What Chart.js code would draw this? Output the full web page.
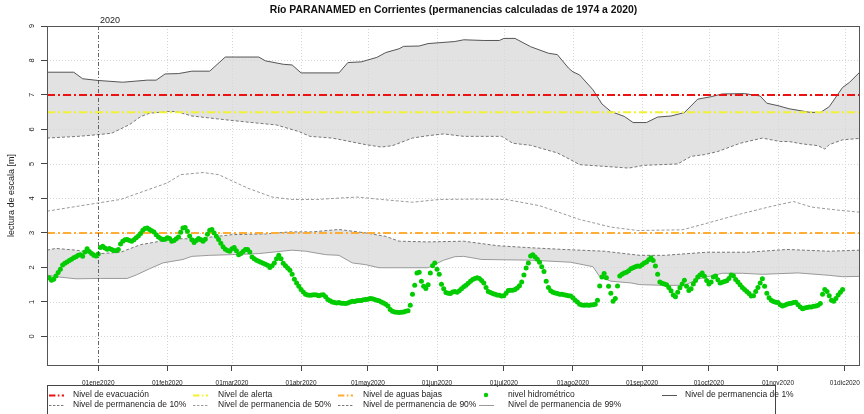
<!DOCTYPE html>
<html>
<head>
<meta charset="utf-8">
<script src="https://cdn.jsdelivr.net/npm/chart.js@4.4.0/dist/chart.umd.min.js"></script>
<style>
  html, body { margin: 0; padding: 0; background: #fff; }
  canvas { display: block; }
</style>
</head>
<body>
<canvas id="rio" width="864" height="414"></canvas>
<script>
const FONT = '"Liberation Sans", Arial, Helvetica, sans-serif';

// eje x en dias desde el 01ene2020
const xMin = -23, xMax = 341.8;
const yMin = -0.83, yMax = 9;
const monthDays = [0, 31, 60, 91, 121, 152, 182, 213, 244, 274, 305, 335];
const monthLabels = ['01ene2020', '01feb2020', '01mar2020', '01abr2020', '01may2020', '01jun2020',
  '01jul2020', '01ago2020', '01sep2020', '01oct2020', '01nov2020', '01dic2020'];
const yTicks = [0, 1, 2, 3, 4, 5, 6, 7, 8, 9];

// niveles de referencia [m]
const nivelEvacuacion = 7;
const nivelAlerta = 6.5;
const nivelAguasBajas = 3;

// permanencias [dia, nivel]
const perm1 = [[-23,7.66],[-11,7.66],[-7,7.47],[0,7.42],[11,7.37],[22,7.43],[26,7.43],[30,7.61],[36,7.62],
  [42,7.69],[50,7.69],[57,8.1],[72,8.1],[75,7.99],[83,7.89],[87,7.87],[91,7.64],[108,7.64],[112,7.94],
  [118,7.96],[125,8.09],[129,8.23],[135,8.34],[137,8.41],[144,8.42],[148,8.49],[160,8.55],[164,8.6],
  [173,8.58],[180,8.58],[182,8.64],[187,8.64],[194,8.4],[202,8.21],[206,8.17],[211,7.78],[213,7.67],
  [216,7.58],[222,7.15],[226,6.74],[230,6.52],[236,6.38],[240,6.2],[246,6.2],[251,6.36],[257,6.39],
  [263,6.49],[269,6.88],[275,6.95],[280,7.03],[290,7.04],[297,6.97],[300,6.76],[305,6.69],[310,6.6],
  [319,6.5],[324,6.49],[328,6.66],[334,7.22],[337,7.36],[341.8,7.67]];
const perm10 = [[-23,5.75],[-9,5.8],[0,5.85],[6,5.89],[14,6.14],[19,6.37],[23,6.47],[31,6.52],[35,6.52],
  [42,6.39],[60,6.26],[69,6.2],[80,6.13],[90,5.94],[95,5.8],[105,5.75],[120,5.56],[127,5.49],[132,5.53],
  [141,5.75],[148,5.82],[155,5.87],[164,5.8],[181,5.8],[186,5.6],[194,5.54],[206,5.32],[212,5.12],
  [216,4.98],[238,4.88],[245,4.96],[260,5.0],[266,5.22],[272,5.27],[278,5.36],[288,5.6],[298,5.75],
  [306,5.65],[310,5.65],[316,5.58],[323,5.53],[326,5.43],[328,5.56],[334,5.7],[341.8,5.74]];
const perm50 = [[-23,3.63],[0,3.87],[10,3.97],[31,4.45],[37,4.69],[47,4.75],[54,4.69],[67,4.3],[78,4.04],
  [87,3.97],[98,3.97],[116,4.04],[127,3.97],[141,3.89],[153,3.97],[168,3.98],[183,3.97],[198,3.79],
  [216,3.39],[230,3.17],[242,3.07],[262,3.09],[272,3.26],[287,3.53],[302,3.77],[312,3.91],[320,3.75],
  [332,3.66],[341.8,3.6]];
const perm90 = [[-23,2.5],[-19,2.55],[-10,2.5],[1,2.4],[10,2.44],[19,2.66],[28,2.76],[35,2.83],[44,2.83],
  [60,2.95],[75,2.97],[86,3.03],[96,3.03],[108,3.1],[120,3.0],[129,2.9],[135,2.76],[148,2.74],[164,2.76],
  [179,2.63],[194,2.57],[209,2.52],[227,2.47],[243,2.35],[254,2.35],[273,2.44],[291,2.44],[309,2.52],
  [328,2.47],[341.8,2.5]];
const perm99 = [[-23,1.78],[-19,1.73],[-10,1.67],[1,1.68],[13,1.68],[17,1.78],[23,1.96],[29,2.13],[38,2.23],
  [42,2.32],[50,2.35],[60,2.37],[72,2.4],[87,2.5],[93,2.47],[102,2.37],[108,2.35],[114,2.13],[120,2.08],
  [126,1.99],[148,1.99],[155,2.21],[160,2.31],[164,2.32],[172,2.23],[194,2.21],[212,2.15],[222,2.02],
  [225,1.73],[230,1.6],[239,1.55],[243,1.5],[254,1.48],[263,1.48],[269,1.66],[280,1.83],[289,1.83],
  [298,1.8],[314,1.84],[328,1.77],[334,1.73],[341.8,1.74]];

// nivel hidrometrico diario, desde el 10dic2019 (dia -22)
const hidroInicio = -22;
const hidro = [
  1.70,1.63,1.66,1.75,1.85,1.95,2.07,2.12,2.16,2.20,
  2.24,2.28,2.31,2.35,2.37,2.32,2.45,2.54,2.46,2.40,
  2.35,2.33,2.39,2.58,2.61,2.56,2.53,2.55,2.52,2.49,
  2.48,2.52,2.68,2.76,2.80,2.81,2.78,2.76,2.80,2.86,
  2.91,2.98,3.08,3.13,3.14,3.10,3.06,3.03,2.95,2.88,
  2.84,2.81,2.82,2.86,2.84,2.76,2.78,2.83,2.88,3.02,
  3.14,3.16,3.05,2.91,2.80,2.72,2.78,2.84,2.80,2.76,
  2.82,2.96,3.08,3.10,3.00,2.90,2.81,2.70,2.60,2.53,
  2.49,2.47,2.54,2.58,2.48,2.37,2.40,2.46,2.52,2.52,
  2.45,2.30,2.25,2.21,2.18,2.15,2.12,2.09,2.06,2.00,
  2.05,2.13,2.25,2.35,2.25,2.12,2.05,1.98,1.92,1.80,
  1.66,1.55,1.45,1.36,1.29,1.22,1.20,1.19,1.20,1.21,
  1.20,1.18,1.20,1.21,1.15,1.07,1.03,1.00,0.98,0.97,
  0.98,0.96,0.96,0.95,0.97,1.00,1.02,1.01,1.03,1.04,
  1.04,1.06,1.07,1.08,1.10,1.09,1.07,1.05,1.03,1.00,
  0.97,0.93,0.88,0.78,0.73,0.71,0.70,0.69,0.70,0.71,
  0.73,0.74,0.90,1.22,1.48,1.84,1.86,1.60,1.45,1.39,
  1.50,1.84,2.05,2.13,1.95,1.80,1.51,1.38,1.27,1.25,
  1.24,1.29,1.30,1.28,1.32,1.38,1.44,1.48,1.54,1.60,
  1.65,1.68,1.70,1.68,1.62,1.55,1.42,1.30,1.27,1.24,
  1.22,1.20,1.19,1.17,1.18,1.25,1.33,1.34,1.34,1.36,
  1.40,1.47,1.58,1.78,1.98,2.13,2.33,2.37,2.30,2.24,
  2.15,2.02,1.88,1.60,1.42,1.32,1.28,1.26,1.24,1.22,
  1.22,1.21,1.19,1.18,1.17,1.12,1.05,1.00,0.93,0.91,
  0.90,0.91,0.90,0.91,0.92,0.93,1.05,1.46,1.72,1.82,
  1.70,1.45,1.25,1.02,1.10,1.46,1.75,1.80,1.84,1.86,
  1.90,1.96,1.99,2.02,2.04,2.03,2.08,2.13,2.16,2.22,
  2.28,2.20,2.04,1.80,1.58,1.54,1.52,1.50,1.42,1.32,
  1.20,1.15,1.28,1.41,1.52,1.63,1.45,1.33,1.38,1.52,
  1.62,1.72,1.78,1.84,1.74,1.62,1.52,1.58,1.72,1.75,
  1.64,1.55,1.57,1.59,1.61,1.68,1.78,1.76,1.65,1.58,
  1.50,1.42,1.36,1.30,1.24,1.17,1.18,1.30,1.42,1.55,
  1.67,1.45,1.25,1.12,1.05,1.01,0.99,0.98,0.92,0.88,
  0.90,0.93,0.95,0.96,0.98,0.99,0.92,0.85,0.80,0.82,
  0.84,0.85,0.85,0.87,0.88,0.90,0.95,1.22,1.36,1.30,
  1.18,1.05,1.02,1.10,1.20,1.28,1.36
];

const toXY = arr => arr.map(p => ({ x: p[0], y: p[1] }));
const hLine = v => [{ x: xMin, y: v }, { x: xMax, y: v }];

const BAND = '#e2e2e2';
const dashDot = [8, 3, 2, 3];

const datasets = [
  { label: 'Nivel de permanencia de 1%', data: toXY(perm1), borderColor: '#555', borderWidth: 1,
    fill: { target: 1 }, backgroundColor: BAND, order: 2 },
  { label: 'Nivel de permanencia de 10%', data: toXY(perm10), borderColor: '#777', borderWidth: 1,
    borderDash: [3, 2], fill: false, order: 2 },
  { label: 'Nivel de permanencia de 50%', data: toXY(perm50), borderColor: '#999', borderWidth: 1,
    borderDash: [3, 2], fill: false, order: 2 },
  { label: 'Nivel de permanencia de 90%', data: toXY(perm90), borderColor: '#777', borderWidth: 1,
    borderDash: [3, 2], fill: { target: 4 }, backgroundColor: BAND, order: 2 },
  { label: 'Nivel de permanencia de 99%', data: toXY(perm99), borderColor: '#999', borderWidth: 1,
    fill: false, order: 2 },
  { label: 'Nivel de evacuación', data: hLine(nivelEvacuacion), borderColor: '#ee1111', borderWidth: 2,
    borderDash: dashDot, fill: false, order: 1 },
  { label: 'Nivel de alerta', data: hLine(nivelAlerta), borderColor: '#f2f230', borderWidth: 2,
    borderDash: dashDot, fill: false, order: 1 },
  { label: 'Nivel de aguas bajas', data: hLine(nivelAguasBajas), borderColor: '#ffae33', borderWidth: 2,
    borderDash: dashDot, fill: false, order: 1 },
  { label: 'nivel hidrométrico', data: hidro.map((v, i) => ({ x: hidroInicio + i, y: v })),
    showLine: false, pointRadius: 2.5, pointBorderWidth: 0, backgroundColor: '#00cc00',
    borderColor: '#00cc00', order: 0 }
];
datasets.forEach(d => { if (d.showLine !== false) { d.pointRadius = 0; d.tension = 0; } });

// orden de la leyenda (por columnas, 2 filas)
const legendOrder = [5, 1, 6, 2, 7, 3, 8, 4, 0];
const legendCols = [{ s: 49, t: 73 }, { s: 193, t: 218 }, { s: 338, t: 363 }, { s: 479, t: 508 }, { s: 662, t: 685 }];
const legendRows = [395, 405];

function seg(ctx, x1, y1, x2, y2) {
  ctx.beginPath(); ctx.moveTo(x1, y1); ctx.lineTo(x2, y2); ctx.stroke();
}

const decor = {
  id: 'decor',
  beforeDatasetsDraw(chart) {
    const { ctx, chartArea: a, scales: { x, y } } = chart;
    ctx.save();
    ctx.strokeStyle = '#d6d6d6';
    ctx.lineWidth = 1;
    ctx.setLineDash([1, 2]);
    monthDays.forEach(d => {
      const px = Math.round(x.getPixelForValue(d)) + 0.5;
      seg(ctx, px, a.top, px, a.bottom);
    });
    yTicks.forEach(v => {
      const py = Math.round(y.getPixelForValue(v)) + 0.5;
      seg(ctx, a.left, py, a.right, py);
    });
    ctx.restore();
  },
  afterDatasetsDraw(chart) {
    const { ctx, chartArea: a, scales: { x } } = chart;
    ctx.save();
    // linea de inicio de año
    const px = Math.round(x.getPixelForValue(0)) + 0.5;
    ctx.strokeStyle = '#444';
    ctx.lineWidth = 0.8;
    ctx.setLineDash([4, 2, 1, 2]);
    seg(ctx, px, a.top, px, a.bottom);
    ctx.setLineDash([]);
    ctx.fillStyle = '#222';
    ctx.font = '9px ' + FONT;
    ctx.textBaseline = 'alphabetic';
    ctx.fillText('2020', px + 1.5, 23);
    // caja del grafico
    ctx.strokeStyle = '#555';
    ctx.lineWidth = 1;
    ctx.strokeRect(Math.round(a.left) + 0.5, Math.round(a.top) + 0.5,
      Math.round(a.right - a.left) - 1, Math.round(a.bottom - a.top));
    ctx.restore();
  },
  afterDraw(chart) {
    const { ctx, chartArea: a, scales: { y } } = chart;
    ctx.save();
    // titulo
    const title = 'Río PARANAMED en Corrientes (permanencias calculadas de 1974 a 2020)';
    ctx.font = 'bold 10px ' + FONT;
    const w = ctx.measureText(title).width;
    ctx.font = 'bold ' + (10 * 368 / w).toFixed(2) + 'px ' + FONT;
    ctx.fillStyle = '#111';
    ctx.textAlign = 'center';
    ctx.textBaseline = 'middle';
    ctx.fillText(title, (a.left + a.right) / 2, 10);
    // etiquetas del eje y (rotadas)
    ctx.font = '7.5px ' + FONT;
    ctx.fillStyle = '#222';
    yTicks.forEach(v => {
      ctx.save();
      ctx.translate(32, y.getPixelForValue(v));
      ctx.rotate(-Math.PI / 2);
      ctx.fillText(String(v), 0, 0);
      ctx.restore();
    });
    // titulo del eje y
    ctx.save();
    ctx.font = '9px ' + FONT;
    ctx.translate(12, (a.top + a.bottom) / 2);
    ctx.rotate(-Math.PI / 2);
    ctx.fillText('lectura de escala [m]', 0, 0);
    ctx.restore();
    // leyenda
    ctx.strokeStyle = '#444';
    ctx.lineWidth = 1;
    ctx.setLineDash([]);
    ctx.strokeRect(47.5, 385.5, 728, 40);
    ctx.font = '8.5px ' + FONT;
    ctx.textAlign = 'left';
    ctx.textBaseline = 'middle';
    legendOrder.forEach((di, k) => {
      const ds = chart.data.datasets[di];
      const col = legendCols[Math.floor(k / 2)];
      const ry = legendRows[k % 2];
      if (ds.showLine === false) {
        ctx.fillStyle = ds.backgroundColor;
        ctx.beginPath();
        ctx.arc(col.s + 7, ry, 2.2, 0, Math.PI * 2);
        ctx.fill();
      } else {
        ctx.strokeStyle = ds.borderColor;
        ctx.lineWidth = ds.borderWidth;
        ctx.setLineDash(ds.borderDash ? ds.borderDash.map(v => v * 0.8) : []);
        seg(ctx, col.s, ry + 0.5, col.s + 15, ry + 0.5);
        ctx.setLineDash([]);
      }
      ctx.fillStyle = '#222';
      ctx.fillText(ds.label, col.t, ry);
    });
    ctx.restore();
  }
};

new Chart(document.getElementById('rio'), {
  type: 'line',
  data: { datasets },
  options: {
    responsive: false,
    animation: false,
    events: [],
    layout: { padding: { top: 26, right: 2, left: 0, bottom: 0 } },
    plugins: {
      legend: { display: false },
      title: { display: false },
      tooltip: { enabled: false },
      filler: { drawTime: 'beforeDatasetsDraw' }
    },
    scales: {
      x: {
        type: 'linear',
        min: xMin,
        max: xMax,
        afterBuildTicks: s => { s.ticks = monthDays.map(v => ({ value: v })); },
        afterFit: s => { s.height = 49; s.paddingLeft = 0; s.paddingRight = 0; },
        ticks: {
          autoSkip: false, maxRotation: 0, minRotation: 0, padding: 8, color: '#222',
          font: { size: 6.5, family: FONT },
          callback: (v, i) => monthLabels[i]
        },
        grid: { drawOnChartArea: false, tickLength: 6, tickColor: '#444', tickWidth: 1 },
        border: { display: false }
      },
      y: {
        type: 'linear',
        min: yMin,
        max: yMax,
        afterBuildTicks: s => { s.ticks = yTicks.map(v => ({ value: v })); },
        afterFit: s => { s.width = 47; s.paddingTop = 0; s.paddingBottom = 0; },
        ticks: { display: false },
        grid: { drawOnChartArea: false, tickLength: 6, tickColor: '#444', tickWidth: 1 },
        border: { display: false }
      }
    }
  },
  plugins: [decor]
});
</script>
</body>
</html>
